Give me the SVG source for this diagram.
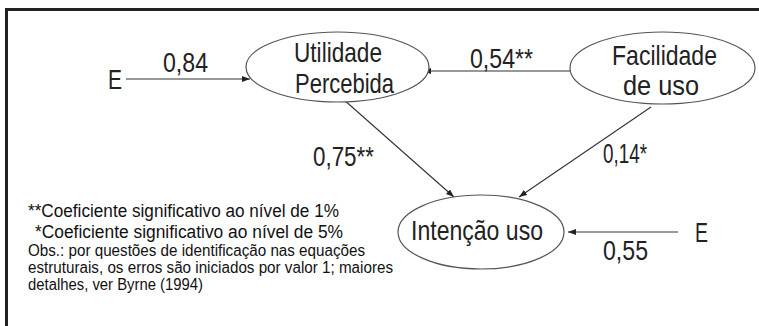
<svg xmlns="http://www.w3.org/2000/svg" width="759" height="326" viewBox="0 0 759 326">
<style>
.bg{fill:#ffffff}
.frame{fill:none;stroke:#222;stroke-width:3}
.node{fill:#ffffff;stroke:#555;stroke-width:1.2}
.lbl{font-family:"Liberation Sans",Arial,sans-serif;font-size:28px;fill:#222}
.edge{fill:none;stroke:#333;stroke-width:1.1;marker-end:url(#arr)}
.leg{font-family:"Liberation Sans",Arial,sans-serif;font-size:18px;fill:#111}
.obs{font-family:"Liberation Sans",Arial,sans-serif;font-size:16px;fill:#111}
</style>
<defs>
<marker id="arr" markerWidth="9" markerHeight="7" refX="8" refY="3" orient="auto" markerUnits="userSpaceOnUse">
<path d="M0,0 L8,3 L0,6 z" fill="#222"/>
</marker>
</defs>
<rect class="bg" x="0" y="0" width="759" height="326"/>
<path class="frame" d="M6.5,326 V9.5 H759"/>
<g id="connectors">
<line class="edge" x1="126" y1="79" x2="250" y2="79"/>
<line class="edge" x1="570" y1="71" x2="423" y2="71"/>
<line class="edge" x1="343" y1="99" x2="454" y2="197"/>
<line class="edge" x1="651" y1="107" x2="519" y2="197"/>
<line class="edge" x1="678" y1="232" x2="568" y2="232"/>
<text class="lbl" x="163" y="72" textLength="45" lengthAdjust="spacingAndGlyphs">0,84</text>
<text class="lbl" x="470" y="68" textLength="63" lengthAdjust="spacingAndGlyphs">0,54**</text>
<text class="lbl" x="313" y="166" textLength="61" lengthAdjust="spacingAndGlyphs">0,75**</text>
<text class="lbl" x="603" y="163" textLength="44" lengthAdjust="spacingAndGlyphs">0,14*</text>
<text class="lbl" x="603" y="260" textLength="45" lengthAdjust="spacingAndGlyphs">0,55</text>
</g>
<g id="E1">
<text class="lbl" x="108" y="89" textLength="14" lengthAdjust="spacingAndGlyphs">E</text>
</g>
<g id="utilidade">
<ellipse class="node" cx="337.5" cy="67" rx="91.5" ry="35"/>
<text class="lbl" x="294" y="62" textLength="88" lengthAdjust="spacingAndGlyphs">Utilidade</text>
<text class="lbl" x="295" y="93" textLength="99" lengthAdjust="spacingAndGlyphs">Percebida</text>
</g>
<g id="facilidade">
<ellipse class="node" cx="662.5" cy="68" rx="92.5" ry="36"/>
<text class="lbl" x="612" y="65" textLength="105" lengthAdjust="spacingAndGlyphs">Facilidade</text>
<text class="lbl" x="623" y="95" textLength="76" lengthAdjust="spacingAndGlyphs">de uso</text>
</g>
<g id="intencao">
<ellipse class="node" cx="481" cy="232" rx="83" ry="37"/>
<text class="lbl" x="411" y="240" textLength="132" lengthAdjust="spacingAndGlyphs">Intenção uso</text>
</g>
<g id="E2">
<text class="lbl" x="695" y="242" textLength="13" lengthAdjust="spacingAndGlyphs">E</text>
</g>
<g id="legend">
<text class="leg" x="28" y="217" textLength="311" lengthAdjust="spacingAndGlyphs">**Coeficiente significativo ao nível de 1%</text>
<text class="leg" x="35" y="238" textLength="308" lengthAdjust="spacingAndGlyphs">*Coeficiente significativo ao nível de 5%</text>
<text class="obs" x="28" y="256" textLength="337" lengthAdjust="spacingAndGlyphs">Obs.: por questões de identificação nas equações</text>
<text class="obs" x="28" y="273" textLength="365" lengthAdjust="spacingAndGlyphs">estruturais, os erros são iniciados por valor 1; maiores</text>
<text class="obs" x="28" y="290" textLength="175" lengthAdjust="spacingAndGlyphs">detalhes, ver Byrne (1994)</text>
</g>
</svg>
